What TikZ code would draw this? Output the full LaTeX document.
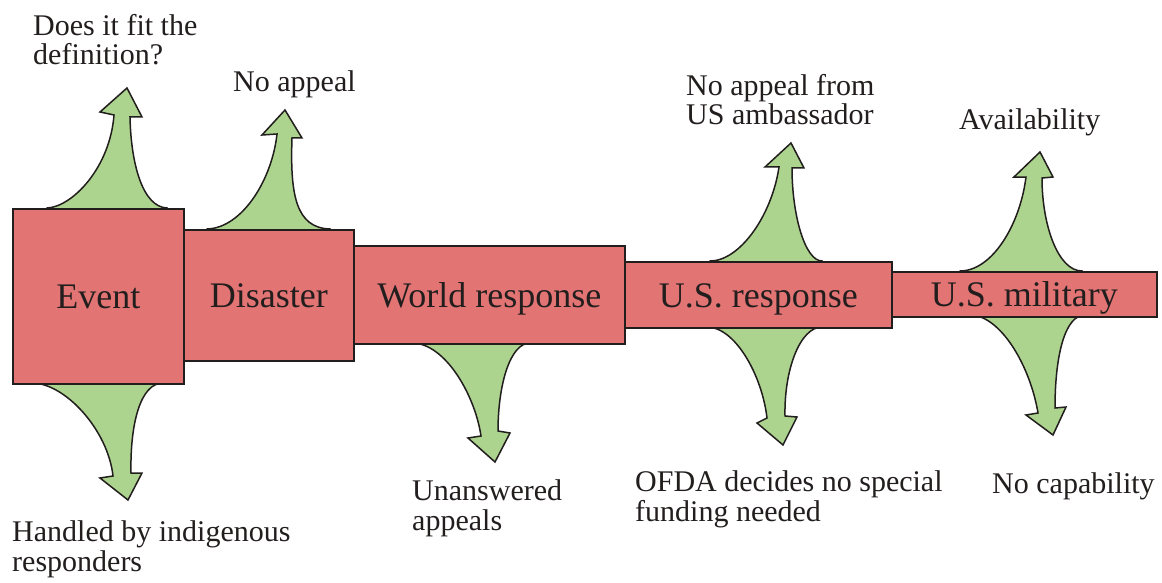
\documentclass[tikz,border=0pt]{standalone}
\usepackage{fontspec}
\setmainfont{Liberation Serif}
\definecolor{boxred}{RGB}{226,116,116}
\definecolor{flaregreen}{RGB}{172,212,142}
\definecolor{inkline}{RGB}{35,30,30}
\begin{document}
\begin{tikzpicture}[x=1pt,y=-1pt,
  stagebox/.style={draw=inkline, line width=1.6pt, fill=boxred, rectangle, anchor=north west,
    inner sep=0pt, font=\fontsize{36}{40}\selectfont, text=inkline, text height=25pt, text depth=0pt},
  flare/.style={draw=inkline, line width=1.5pt, fill=flaregreen, line join=miter},
  lbl/.style={anchor=base west, inner sep=0pt, align=left, font=\fontsize{30}{29.5}\selectfont, text=inkline}]
\useasboundingbox (0,0) rectangle (1162,583);
\fill[white] (0,0) rectangle (1162,583);

% flared arrows (behind the boxes)
\draw[flare] (47,208) .. controls (72,207) and (110,168) .. (114,115) -- (100,112) -- (127,88) -- (142,117) -- (130,117)
  .. controls (131,165) and (143,207) .. (167,208) -- (167,213) -- (47,213) -- cycle;
\draw[flare] (207,229) .. controls (242,228) and (272,180) .. (277,134) -- (262,135) -- (285,110) -- (302,138) -- (292,138)
  .. controls (290,195) and (296,228) .. (330,229) -- (330,234) -- (207,234) -- cycle;
\draw[flare] (32,383) .. controls (65,383) and (108,430) .. (113,476) -- (100,478) -- (128,500) -- (142,473) -- (131,473)
  .. controls (130,425) and (140,383) .. (163,383) -- (163,378) -- (32,378) -- cycle;
\draw[flare] (412,343) .. controls (445,343) and (475,395) .. (481,436) -- (468,438) -- (495,462) -- (510,433) -- (498,431)
  .. controls (498,385) and (510,343) .. (530,343) -- (530,338) -- (412,338) -- cycle;
\draw[flare] (710,261) .. controls (740,261) and (772,215) .. (779,167) -- (765,167) -- (791,143) -- (804,168) -- (792,168)
  .. controls (792,215) and (805,261) .. (822,261) -- (822,266) -- (710,266) -- cycle;
\draw[flare] (707,327) .. controls (735,327) and (762,375) .. (767,418) -- (757,423) -- (783,445) -- (797,417) -- (785,416)
  .. controls (784,370) and (800,327) .. (822,327) -- (822,322) -- (707,322) -- cycle;
\draw[flare] (960,271) .. controls (992,271) and (1020,225) .. (1026,177) -- (1014,177) -- (1040,152) -- (1053,177) -- (1042,178)
  .. controls (1042,225) and (1058,271) .. (1082,271) -- (1082,276) -- (960,276) -- cycle;
\draw[flare] (970,315) .. controls (1000,315) and (1030,365) .. (1038,413) -- (1026,415) -- (1053,435) -- (1066,407) -- (1055,408)
  .. controls (1055,355) and (1065,315) .. (1085,315) -- (1085,310) -- (970,310) -- cycle;

% stage boxes
\node[stagebox, minimum width=171pt, minimum height=175pt] (event) at (12,208) {Event};
\node[stagebox, minimum width=170pt, minimum height=131pt] (disaster) at (183,229) {Disaster};
\node[stagebox, minimum width=271pt, minimum height=98pt] (world) at (353,245) {World response};
\node[stagebox, minimum width=267pt, minimum height=66pt] (usresp) at (624,261) {U.S. response};
\node[stagebox, minimum width=265pt, minimum height=45pt] (usmil) at (891,271) {U.S. military};

% labels (multi-line nodes anchored at the baseline of their last line)
\node[lbl] (ldef) at (33,65) {Does it fit the\\definition?};
\node[lbl] (lnoapp) at (233,92) {No appeal};
\node[lbl] (lamb) at (686,125) {No appeal from\\US ambassador};
\node[lbl] (lavail) at (959,130) {Availability};
\node[lbl] (lhandled) at (12,571) {Handled by indigenous\\responders};
\node[lbl] (lunans) at (412,530) {Unanswered\\appeals};
\node[lbl] (lofda) at (635,521) {OFDA decides no special\\funding needed};
\node[lbl] (lnocap) at (992,493) {No capability};
\end{tikzpicture}
\end{document}
